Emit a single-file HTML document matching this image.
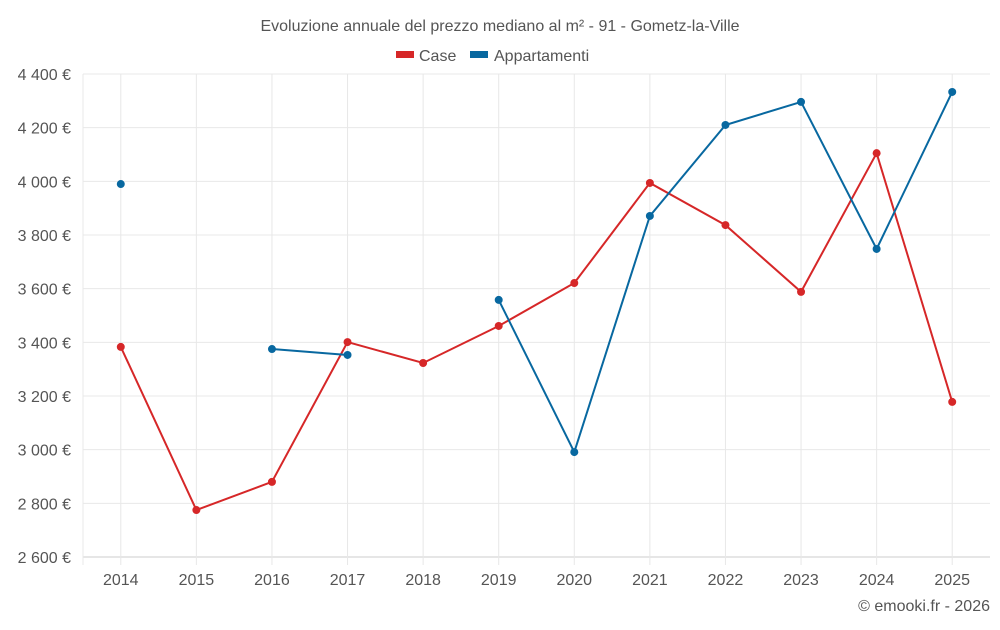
<!DOCTYPE html>
<html><head><meta charset="utf-8"><style>
body{margin:0;background:#fff;font-family:"Liberation Sans",sans-serif;}
svg text{font-family:"Liberation Sans",sans-serif;fill:#555;}
</style></head><body>
<svg id="chart" width="1000" height="625">
<text x="500" y="31" text-anchor="middle" font-size="16">Evoluzione annuale del prezzo mediano al m² - 91 - Gometz-la-Ville</text>
<g>
<g><rect x="396" y="51" width="18" height="7" fill="#d62728"/><text x="419" y="61" font-size="16">Case</text></g>
<g><rect x="470" y="51" width="18" height="7" fill="#0868a0"/><text x="494" y="61" font-size="16">Appartamenti</text></g>
</g>
<g id="grid"></g><g id="axes"></g><g id="series"></g>
<text x="990" y="611" text-anchor="end" font-size="16">© emooki.fr - 2026</text>
</svg>
<script>
const years=[2014,2015,2016,2017,2018,2019,2020,2021,2022,2023,2024,2025];
const caseVals=[3383,2775,2880,3401,3323,3461,3621,3994,3837,3588,4105,3178];
const aptVals=[3990,null,3375,3353,null,3558,2991,3871,4210,4296,3748,4333];
const yTicks=[2600,2800,3000,3200,3400,3600,3800,4000,4200,4400];
const ns="http://www.w3.org/2000/svg";
const L=83,R=990,T=74,B=557,yMin=2600,yMax=4400;
const step=(R-L)/years.length;
function xs(i){return L+step*(i+0.5);}
function ys(v){return B-(v-yMin)/(yMax-yMin)*(B-T);}
function mk(tag,attrs,parent){const e=document.createElementNS(ns,tag);for(const k in attrs)e.setAttribute(k,attrs[k]);document.getElementById(parent).appendChild(e);return e;}
function fmt(v){const s=String(v);return s.slice(0,s.length-3)+" "+s.slice(-3)+" €";}
yTicks.forEach(v=>{
 const l=mk('line',{x1:L,x2:R,y1:ys(v),y2:ys(v),stroke:v===yMin?'#ccc':'#e8e8e8'},'grid');
 
 
 const t=mk('text',{x:71,y:ys(v)+6,'text-anchor':'end','font-size':16},'axes');t.textContent=fmt(v);
 
 
});
const l0=mk('line',{x1:L,x2:L,y1:T,y2:B+8,stroke:'#e8e8e8'},'grid');


years.forEach((y,i)=>{
 const l=mk('line',{x1:xs(i),x2:xs(i),y1:T,y2:B+8,stroke:'#e8e8e8'},'grid');
 
 
 const t=mk('text',{x:xs(i),y:585,'text-anchor':'middle','font-size':16},'axes');t.textContent=y;
 
 
});
function series(vals,color,name){
 let segs=[],cur=[];
 vals.forEach((v,i)=>{if(v===null){if(cur.length)segs.push(cur);cur=[];}else cur.push([xs(i),ys(v)]);});
 if(cur.length)segs.push(cur);
 segs.forEach(s=>{if(s.length>1){const p=mk('polyline',{points:s.map(q=>q.join(',')).join(' '),fill:'none',stroke:color,'stroke-width':2},'series');
 
 }});
 vals.forEach((v,i)=>{if(v===null)return;const c=mk('circle',{cx:xs(i),cy:ys(v),r:4,fill:color},'series');
 
 });
}
series(caseVals,'#d62728','case');
series(aptVals,'#0868a0','appartamenti');
</script>
</body></html>
